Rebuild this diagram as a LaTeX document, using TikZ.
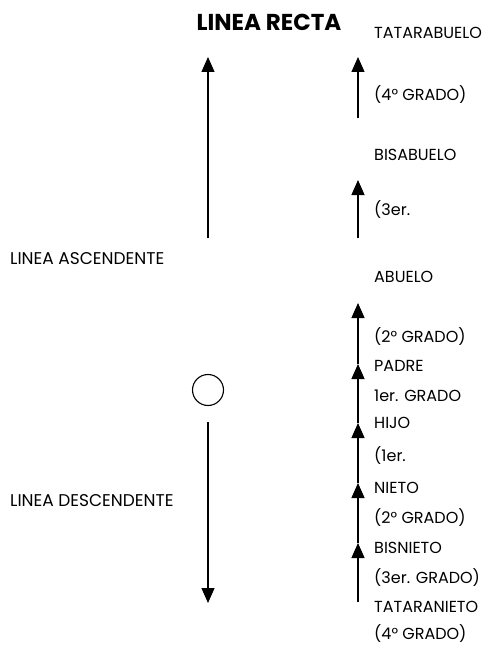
\documentclass[tikz,border=0pt]{standalone}
\usepackage{fontspec}
\setmainfont{Poppins}
\usetikzlibrary{arrows.meta}
\tikzset{
  lbl/.style={anchor=west,inner sep=0pt,font=\fontsize{16}{18}\selectfont},
  sidelbl/.style={anchor=west,inner sep=0pt,font=\fontsize{17}{19}\selectfont},
  conn/.style={line width=1.2pt,-{Triangle[width=13pt,length=15pt]}}
}
\begin{document}
\begin{tikzpicture}[x=1pt,y=-1pt]
\useasboundingbox (0,0) rectangle (483,647);
% title
\node[inner sep=0pt,font=\fontsize{23}{26}\selectfont\bfseries] (title) at (269,22) {LINEA RECTA};
% left labels
\node[sidelbl] (asc) at (10,259) {LINEA ASCENDENTE};
\node[sidelbl] (desc) at (10,501) {LINEA DESCENDENTE};
% right labels
\node[lbl] (l1) at (374,33) {TATARABUELO};
\node[lbl] (l2) at (374,95) {(4° GRADO)};
\node[lbl] (l3) at (374,155) {BISABUELO};
\node[lbl] (l4) at (374,210) {(3er.};
\node[lbl] (l5) at (374,277) {ABUELO};
\node[lbl] (l6) at (374,337) {(2° GRADO)};
\node[lbl] (l7) at (374,366) {PADRE};
\node[lbl] (l8) at (374,396) {1er. GRADO};
\node[lbl] (l9) at (374,423) {HIJO};
\node[lbl] (l10) at (374,456) {(1er.};
\node[lbl] (l11) at (374,488) {NIETO};
\node[lbl] (l12) at (374,518) {(2° GRADO)};
\node[lbl] (l13) at (374,548) {BISNIETO};
\node[lbl] (l14) at (374,578) {(3er. GRADO)};
\node[lbl] (l15) at (374,607) {TATARANIETO};
\node[lbl] (l16) at (374,634) {(4° GRADO)};
% left column
\coordinate (la0) at (208,238);
\coordinate (la1) at (208,57);
\node[circle,draw,line width=1.1pt,minimum size=31pt,inner sep=0pt] (ego) at (208,390) {};
\coordinate (ld0) at (208,422);
\coordinate (ld1) at (208,603);
\draw[conn] (la0) -- (la1);
\draw[conn] (ld0) -- (ld1);
% right column
\coordinate (r1a) at (358,118);
\coordinate (r1b) at (358,57);
\coordinate (r2a) at (358,238);
\coordinate (r2b) at (358,180);
\coordinate (s0) at (358,602);
\coordinate (s1) at (358,543);
\coordinate (s2) at (358,483);
\coordinate (s3) at (358,423);
\coordinate (s4) at (358,364);
\coordinate (s5) at (358,303);
\draw[conn] (r1a) -- (r1b);
\draw[conn] (r2a) -- (r2b);
\draw[conn] (s0) -- (s1);
\draw[conn] (s1) -- (s2);
\draw[conn] (s2) -- (s3);
\draw[conn] (s3) -- (s4);
\draw[conn] (s4) -- (s5);
\end{tikzpicture}
\end{document}
